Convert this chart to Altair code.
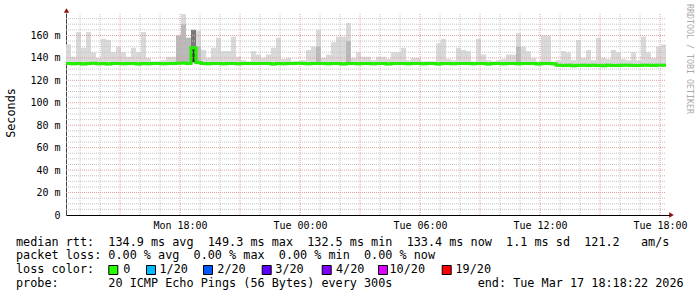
import altair as alt
import pandas as pd
from datetime import datetime, timedelta

# ---------------- data ----------------
START = datetime(2026, 3, 16, 12, 18)
END = datetime(2026, 3, 17, 18, 18)
STEP_MIN = 15  # one value per 15 minutes

# top of the smoke (max ping) per 15-minute step, ms
smoke_max = [
    152, 141, 163, 149, 163, 145, 140, 157, 156, 145,
    150, 145, 141, 149, 145, 163, 140, 137, 137, 138,
    141, 141, 158, 179, 147, 165, 164, 147, 140, 149,
    158, 146, 146, 159, 141, 138, 137, 146, 143, 140,
    143, 149, 158, 139, 140, 137, 137, 138, 147, 150,
    165, 140, 143, 154, 159, 159, 171, 140, 145, 141,
    141, 138, 141, 141, 139, 145, 145, 149, 138, 140,
    140, 137, 137, 137, 153, 157, 139, 138, 149, 147,
    146, 137, 157, 143, 138, 137, 138, 139, 143, 143,
    162, 150, 146, 140, 137, 160, 160, 137, 138, 146,
    145, 138, 156, 140, 147, 138, 158, 140, 139, 147,
    145, 139, 138, 145, 138, 159, 145, 140, 150, 152,
]

# median rtt per 15-minute step, ms
median_rtt = [
    135.0, 134.8, 135.0, 134.6, 135.0, 135.2, 134.8, 135.0, 134.6, 135.0,
    135.0, 134.8, 135.0, 135.0, 134.6, 135.0, 134.7, 135.0, 135.0, 134.8,
    135.0, 135.0, 135.2, 135.4, 135.0, 149.0, 136.0, 135.0, 134.8, 135.0,
    135.0, 134.8, 135.0, 135.0, 134.7, 135.0, 135.0, 134.9, 135.0, 135.0,
    135.0, 134.6, 135.0, 134.8, 135.0, 135.0, 135.2, 135.0, 134.7, 135.0,
    135.0, 135.0, 134.8, 135.0, 135.0, 134.6, 135.0, 135.0, 134.8, 135.0,
    135.0, 134.7, 135.0, 135.0, 134.5, 135.0, 135.0, 135.0, 134.8, 135.0,
    135.0, 134.8, 135.0, 135.0, 134.6, 135.0, 135.0, 134.8, 135.0, 135.0,
    135.0, 134.8, 135.0, 135.0, 134.6, 135.0, 135.0, 134.8, 135.0, 135.0,
    134.7, 135.0, 134.9, 135.0, 134.6, 135.0, 135.0, 134.8, 133.4, 133.2,
    133.4, 133.0, 133.3, 133.4, 133.2, 133.4, 133.3, 133.0, 133.4, 133.3,
    133.2, 133.4, 133.4, 133.3, 133.2, 133.4, 133.4, 133.3, 133.4, 133.4,
]

# darker smoke in a few steps
mid_steps = [22, 23, 24, 26, 50, 56, 90]
mid_tops = [160, 170, 158, 150, 150, 155, 150]
dark_steps = [25]
dark_tops = [149]
dark_mid_tops = [165]

loss_labels = ["0", "1/20", "2/20", "3/20", "4/20", "10/20", "19/20"]
loss_colors = ["#26ff00", "#00b8ff", "#0059ff", "#5e00ff", "#7e00ff", "#dd00ff", "#ff0000"]

y_tick_values = [0, 20, 40, 60, 80, 100, 120, 140, 160]
x_tick_hours = [(16, 18), (17, 0), (17, 6), (17, 12), (17, 18)]

legend_lines = [
    "median rtt:  134.9 ms avg  149.3 ms max  132.5 ms min  133.4 ms now  1.1 ms sd  121.2   am/s",
    "packet loss: 0.00 % avg  0.00 % max  0.00 % min  0.00 % now",
    "loss color:",
    "probe:       20 ICMP Echo Pings (56 Bytes) every 300s            end: Tue Mar 17 18:18:22 2026",
]

# ---------------- helpers ----------------
def iso(d):
    return d.strftime("%Y-%m-%dT%H:%M:%SZ")

def nb(s):
    return s.replace(" ", "\u00a0")

n = len(smoke_max)
t0 = [START + timedelta(minutes=STEP_MIN * i) for i in range(n)]
t1 = [START + timedelta(minutes=STEP_MIN * (i + 1)) for i in range(n)]

smoke_df = pd.DataFrame({
    "t": [iso(d) for d in t0],
    "t2": [iso(d) for d in t1],
    "lo": [m - 1.5 for m in median_rtt],
    "hi": smoke_max,
})
mid_df = pd.DataFrame({
    "t": [iso(t0[i]) for i in mid_steps],
    "t2": [iso(t1[i]) for i in mid_steps],
    "lo": [median_rtt[i] for i in mid_steps],
    "hi": mid_tops,
})
darkmid_df = pd.DataFrame({
    "t": [iso(t0[i]) for i in dark_steps],
    "t2": [iso(t1[i]) for i in dark_steps],
    "lo": dark_tops,
    "hi": dark_mid_tops,
})
dark_df = pd.DataFrame({
    "t": [iso(t0[i]) for i in dark_steps],
    "t2": [iso(t1[i]) for i in dark_steps],
    "lo": [136 for _ in dark_steps],
    "hi": dark_tops,
})
med_df = pd.DataFrame({
    "t": [iso(d) for d in t0] + [iso(END)],
    "v": median_rtt + [median_rtt[-1]],
})

def dt(d):
    return alt.DateTime(year=d.year, month=d.month, date=d.day,
                        hours=d.hour, minutes=d.minute, utc=True)

xscale = alt.Scale(type="utc", domain=[dt(START), dt(END)], nice=False)
yscale = alt.Scale(domain=[0, 180], nice=False, zero=True)

FONT = "DejaVu Sans Mono"

x_axis = alt.Axis(
    values=[dt(datetime(2026, 3, d, h, 0)) for d, h in x_tick_hours],
    labelExpr="utcFormat(datum.value, '%a %H:%M')", grid=False, ticks=False,
    labelFont=FONT, labelFontSize=10, labelColor="#000", labelPadding=5,
    domainColor="#000", domainWidth=1, labelFlush=False, labelOverlap=False,
    title=None,
)
y_axis = alt.Axis(
    values=y_tick_values,
    labelExpr="datum.value == 0 ? '0\u00a0\u00a0' : datum.value + ' m'",
    grid=False, ticks=False, labelFont=FONT, labelFontSize=10, labelColor="#000",
    labelPadding=6, domainColor="#404040", domainWidth=1, title=None,
)

def band(df, color):
    return alt.Chart(df).mark_rect(color=color, opacity=1).encode(
        x=alt.X("t:T", scale=xscale, axis=x_axis),
        x2="t2:T",
        y=alt.Y("lo:Q", scale=yscale, axis=y_axis),
        y2="hi:Q",
    )

smoke = band(smoke_df, "#d9d9d9")
smoke_mid = band(mid_df, "#b8b8b8")
smoke_darkmid = band(darkmid_df, "#7a7a7a")
smoke_dark = band(dark_df, "#333333")

# grid lines
minor_h = [v for v in range(5, 180, 5) if v % 20 != 0]
major_h = [v for v in range(20, 180, 20)]
hours = [START.replace(minute=0) + timedelta(hours=h) for h in range(1, 31)]
minor_v = [iso(h) for h in hours if h.hour % 3 != 0]
major_v = [iso(h) for h in hours if h.hour % 3 == 0]

def hgrid(vals, color):
    return alt.Chart(pd.DataFrame({"v": vals})).mark_rule(
        color=color, strokeDash=[1, 1], strokeWidth=1, opacity=1).encode(
        x=alt.datum(dt(START), type="temporal", scale=xscale, axis=x_axis),
        x2=alt.datum(dt(END)),
        y=alt.Y("v:Q", scale=yscale, axis=y_axis))

def vgrid(vals, color):
    return alt.Chart(pd.DataFrame({"t": vals})).mark_rule(
        color=color, strokeDash=[1, 1], strokeWidth=1, opacity=1).encode(
        x=alt.X("t:T", scale=xscale, axis=x_axis),
        y=alt.datum(0, type="quantitative", scale=yscale, axis=y_axis),
        y2=alt.datum(180))

grid = [hgrid(minor_h, "#c4c4c4"), vgrid(minor_v, "#c4c4c4"),
        hgrid(major_h, "#e0a0a0"), vgrid(major_v, "#e0a0a0")]

median_line = alt.Chart(med_df).mark_line(
    color="#22ee00", strokeWidth=3, interpolate="step-after").encode(
    x=alt.X("t:T", scale=xscale, axis=x_axis),
    y=alt.Y("v:Q", scale=yscale, axis=y_axis),
)

one = pd.DataFrame({"a": [0]})

arrows = [
    alt.Chart(one).mark_point(shape="triangle-up", filled=True, size=28,
                              color="#8b1010", opacity=1).encode(
        x=alt.value(0.5), y=alt.value(-2.5)),
    alt.Chart(one).mark_point(shape="triangle-right", filled=True, size=28,
                              color="#8b1010", opacity=1).encode(
        x=alt.value(605.5), y=alt.value(202)),
    alt.Chart(one).mark_rule(color="#000", strokeWidth=1).encode(
        x=alt.value(600), x2=alt.value(604), y=alt.value(202.5)),
]

texts = []
row_y = [232.7, 246.4, 260.1, 273.8]
for line, yy in zip(legend_lines, row_y):
    texts.append(alt.Chart(one).mark_text(
        font=FONT, fontSize=11.8, align="left", baseline="alphabetic", color="#000"
    ).encode(x=alt.value(-50), y=alt.value(yy), text=alt.value(nb(line))))

box_x = [108.3, 146, 203, 261.7, 321.7, 378, 441.7]
label_x = [123.3, 159.5, 217.3, 275.3, 336, 389.5, 455.5]
for lab, col, bx, tx in zip(loss_labels, loss_colors, box_x, label_x):
    texts.append(alt.Chart(one).mark_rect(
        fill=col, stroke="#000", strokeWidth=1, opacity=1).encode(
        x=alt.value(bx - 66 + 0.5), x2=alt.value(bx - 66 + 9.5),
        y=alt.value(252.5), y2=alt.value(261.5)))
    texts.append(alt.Chart(one).mark_text(
        font=FONT, fontSize=11.8, align="left", baseline="alphabetic", color="#000"
    ).encode(x=alt.value(tx - 66), y=alt.value(260.1), text=alt.value(nb(lab))))

texts.append(alt.Chart(one).mark_text(
    font=FONT, fontSize=11.8, angle=270, align="center", baseline="middle", color="#000"
).encode(x=alt.value(-55), y=alt.value(100), text=alt.value("Seconds")))

texts.append(alt.Chart(one).mark_text(
    font=FONT, fontSize=8.3, angle=90, align="center", baseline="middle", color="#aaaaaa"
).encode(x=alt.value(623), y=alt.value(46), text=alt.value(nb("RRDTOOL / TOBI OETIKER"))))

chart = alt.layer(
    smoke, smoke_mid, smoke_darkmid, smoke_dark, *grid, median_line, *arrows, *texts
).properties(
    width=600, height=202,
    padding={"left": 66, "top": 13, "right": 31, "bottom": 82},
    autosize=alt.AutoSizeParams(type="none"),
    background="#ffffff",
).configure_view(stroke=None)

chart.save("out.html", embed_options={"renderer": "svg", "actions": False})
